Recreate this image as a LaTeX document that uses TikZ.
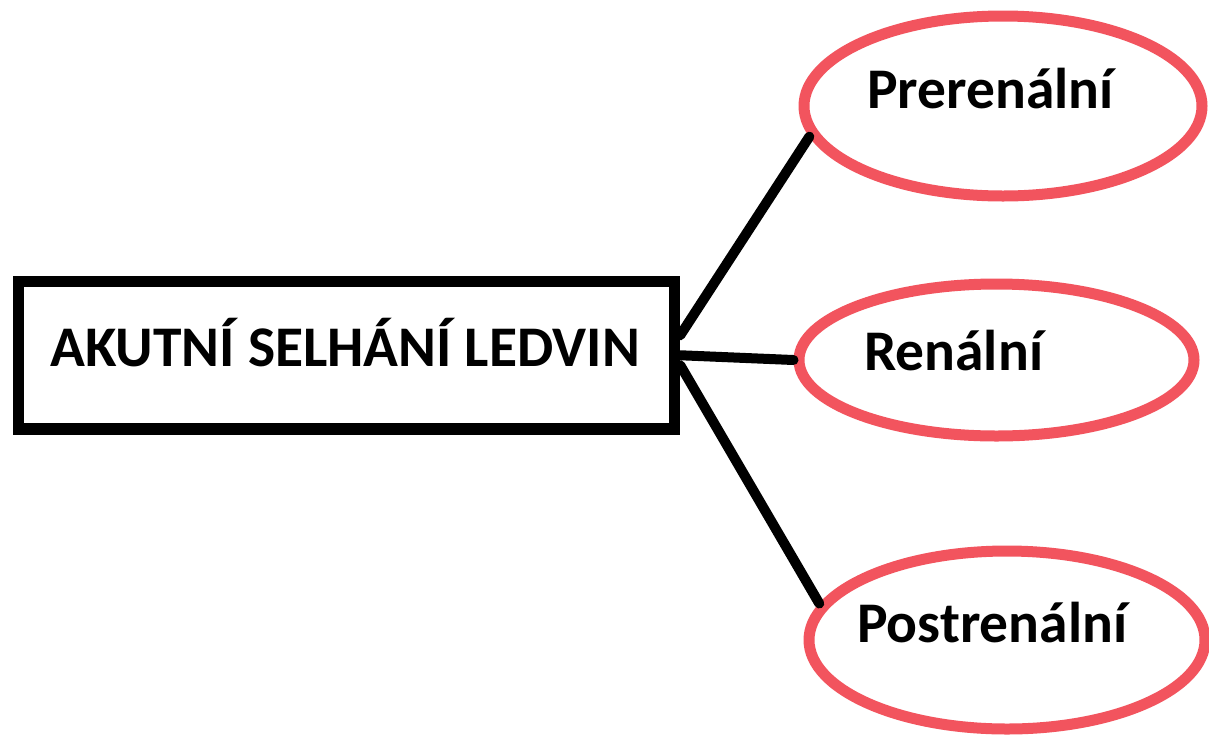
\documentclass[tikz,border=0pt]{standalone}
\usepackage{fontspec}
\setmainfont{Carlito}
\usetikzlibrary{shapes.geometric}
\definecolor{ellred}{RGB}{242,84,94}
\tikzset{
  mainbox/.style={draw=black, line width=11.5pt, rectangle, inner sep=0pt},
  leaf/.style={draw=ellred, line width=11pt, ellipse, inner sep=0pt},
  lbl/.style={font=\fontsize{57.5}{62}\selectfont\bfseries, inner sep=0pt, anchor=base west},
  conn/.style={draw=black, line width=10pt, line cap=round}
}
\begin{document}
\begin{tikzpicture}[x=1pt,y=-1pt]
\useasboundingbox[fill=white] (0,0) rectangle (1209,737);
\node[mainbox, minimum width=656pt, minimum height=147.5pt] (box) at (346.5,355.25) {};
\node[lbl] (t0) at (50,366) {AKUTNÍ SELHÁNÍ LEDVIN};
\node[leaf, minimum width=398pt, minimum height=180pt] (e1) at (1003,106) {};
\node[leaf, minimum width=395pt, minimum height=152pt] (e2) at (996.5,360) {};
\node[leaf, minimum width=396pt, minimum height=178pt] (e3) at (1007,640) {};
\node[lbl] (t1) at (867,108) {Prerenální};
\node[lbl] (t2) at (864,370) {Renální};
\node[lbl] (t3) at (857,642) {Postrenální};
\draw[conn] ([yshift=20pt]box.east) -- (e1.189);
\draw[conn] (box.east) -- (e2.180);
\draw[conn] ([yshift=-10pt]box.east) -- (e3.169.5);
\end{tikzpicture}
\end{document}
